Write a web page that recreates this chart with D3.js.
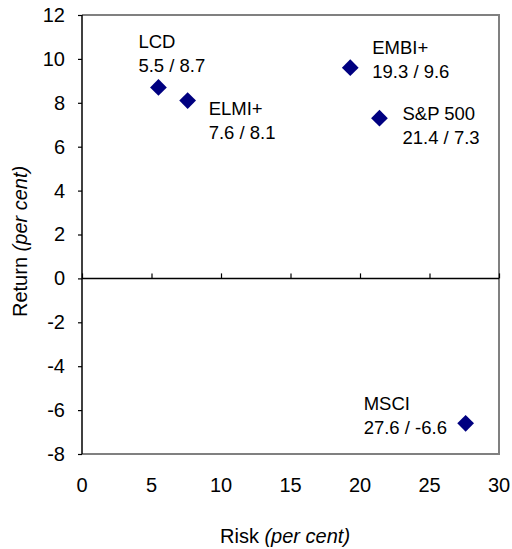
<!DOCTYPE html>
<html>
<head>
<meta charset="utf-8">
<script src="https://cdn.jsdelivr.net/npm/d3@7"></script>
<style>
  html, body { margin: 0; padding: 0; background: #fff; }
  svg { display: block; font-family: "Liberation Sans", Arial, sans-serif; }
</style>
</head>
<body>
<svg id="chart" width="512" height="549"></svg>
<script>
// ---- data ----
const names   = ["LCD", "ELMI+", "EMBI+", "S&P 500", "MSCI"];
const risk    = [5.5, 7.6, 19.3, 21.4, 27.6];
const ret     = [8.7, 8.1, 9.6, 7.3, -6.6];
const xTicks  = [0, 5, 10, 15, 20, 25, 30];
const yTicks  = [-8, -6, -4, -2, 0, 2, 4, 6, 8, 10, 12];

// ---- label layout (pixel offsets from each marker) ----
const labelDx = [-20, 21, 22, 23, -102];
const labelDy = [-39, 14, -14, 2, -13];

const svg = d3.select("#chart");
const mL = 82, mR = 499, mT = 15, mB = 454;

const x = d3.scaleLinear().domain([0, 30]).range([mL, mR]);
const y = d3.scaleLinear().domain([-8, 12]).range([mB, mT]);

// plot frame (grey top/right/bottom)
svg.append("path")
  .attr("d", `M${mL},${mT}H${mR}V${mB}H${mL}`)
  .attr("fill", "none").attr("stroke", "#808080").attr("stroke-width", 2);

// y axis (black, ticks outward)
const yAxis = svg.append("g").attr("transform", `translate(${mL},0)`)
  .call(d3.axisLeft(y).tickValues(yTicks).tickSize(4).tickPadding(13).tickFormat(d3.format("d")));
yAxis.attr("font-size", null).attr("font-family", null);
yAxis.select(".domain").attr("stroke", "#000").attr("stroke-width", 1.5).attr("d", `M0,${mT}V${mB}`);
yAxis.selectAll(".tick line").attr("stroke", "#000").attr("stroke-width", 1.2);
yAxis.selectAll(".tick text").style("font-size", "20px").attr("fill", "#000")
  .text(d => d < 0 ? "-" + Math.abs(d) : d);

// x axis line at y = 0, ticks pointing up
const xAxis = svg.append("g").attr("transform", `translate(0,${y(0)})`)
  .call(d3.axisBottom(x).tickValues(xTicks).tickSize(-5).tickFormat(""));
xAxis.select(".domain").attr("stroke", "#000").attr("stroke-width", 1.5).attr("d", `M${mL},0H${mR}`);
xAxis.selectAll(".tick line").attr("stroke", "#000").attr("stroke-width", 1.2);

// x tick labels along bottom
svg.append("g").selectAll("text").data(xTicks).join("text")
  .attr("x", d => x(d)).attr("y", 491.5)
  .attr("text-anchor", "middle").style("font-size", "20px").attr("fill", "#000")
  .text(d => d);

// markers (diamonds)
const diamond = d3.symbol().type(d3.symbolSquare).size(140);
svg.append("g").selectAll("path").data(names).join("path")
  .attr("d", diamond)
  .attr("transform", (d, i) => `translate(${x(risk[i])},${y(ret[i])}) rotate(45)`)
  .attr("fill", "#000080");

// point labels
const lbl = svg.append("g").style("font-size", "18.5px").attr("fill", "#000");
names.forEach((n, i) => {
  const tx = x(risk[i]) + labelDx[i];
  const ty = y(ret[i]) + labelDy[i];
  const t = lbl.append("text").attr("x", tx).attr("y", ty);
  t.append("tspan").attr("x", tx).text(n);
  t.append("tspan").attr("x", tx).attr("dy", 24).text(risk[i] + " / " + ret[i]);
});

// axis titles
const xt = svg.append("text").attr("x", 220).attr("y", 543)
  .style("font-size", "20px").attr("fill", "#000");
xt.append("tspan").text("Risk ");
xt.append("tspan").attr("font-style", "italic").text("(per cent)");

const yt = svg.append("text").attr("transform", `translate(27,317) rotate(-90)`)
  .style("font-size", "20px").attr("fill", "#000");
yt.append("tspan").text("Return ");
yt.append("tspan").attr("font-style", "italic").text("(per cent)");
</script>
</body>
</html>
